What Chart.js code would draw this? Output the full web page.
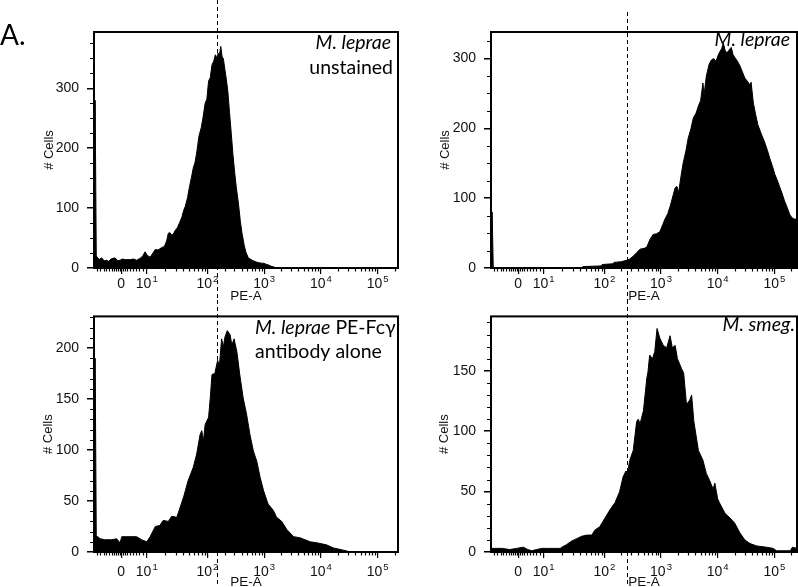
<!DOCTYPE html>
<html>
<head>
<meta charset="utf-8">
<script src="https://cdn.jsdelivr.net/npm/chart.js@4.4.1/dist/chart.umd.min.js"></script>
<style>
  html, body { margin: 0; padding: 0; background: #fff; overflow: hidden; }
  #wrap { position: relative; width: 798px; height: 587px; }
  canvas { position: absolute; }
</style>
</head>
<body>
<div id="wrap">
  <canvas id="tl" width="400" height="304" style="left:0;top:0"></canvas>
  <canvas id="tr" width="398" height="304" style="left:400px;top:0"></canvas>
  <canvas id="bl" width="400" height="290" style="left:0;top:300px"></canvas>
  <canvas id="br" width="398" height="290" style="left:400px;top:300px"></canvas>
</div>
<script>
// PE-A positions are in display decades of the biexponential axis (10^k sits at k)
const xTickPos = [0.48, 0.93, 2, 3, 4, 5];
const xTickBase = ["0", "10", "10", "10", "10", "10"];
const xTickExp = ["", "1", "2", "3", "4", "5"];
const xLowMinor = [0.05, 0.11, 0.17, 0.22, 0.27, 0.31, 0.35, 0.39, 0.42, 0.45,
                   0.51, 0.55, 0.59, 0.63, 0.68, 0.74, 0.8, 0.86];

// gate thresholds (dashed lines), one per column
const gateLeft = 2.17;
const gateRight = 2.40;

// M. leprae unstained
const p1Pos = [0, 0.02, 0.04, 0.09, 0.135, 0.18, 0.22, 0.26, 0.3, 0.37,
               0.42, 0.46, 0.5, 0.55, 0.64, 0.7, 0.75, 0.81, 0.86, 0.9,
               0.94, 0.99, 1.04, 1.08, 1.13, 1.19, 1.24, 1.28, 1.31, 1.34,
               1.37, 1.4, 1.44, 1.47, 1.51, 1.55, 1.58, 1.61, 1.65, 1.68,
               1.72, 1.75, 1.78, 1.81, 1.85, 1.89, 1.92, 1.96, 1.99, 2.02,
               2.05, 2.08, 2.11, 2.14, 2.17, 2.19, 2.21, 2.235, 2.26, 2.28,
               2.31, 2.33, 2.36, 2.39, 2.42, 2.45, 2.48, 2.51, 2.55, 2.58,
               2.61, 2.65, 2.68, 2.72, 2.77, 2.81, 2.86, 2.9, 2.95, 2.99,
               3.04, 3.08, 3.12, 3.16, 3.22, 5.4];
const p1Cells = [18, 280, 20, 14, 17, 12, 13, 11, 15, 17,
                 12, 13, 15, 14, 14, 15, 13, 16, 20, 27,
                 21, 18, 25, 31, 30, 34, 36, 45, 58, 59,
                 55, 57, 64, 67, 76, 85, 96, 103, 118, 134,
                 152, 167, 176, 192, 220, 234, 250, 275, 282, 312,
                 318, 339, 345, 356, 350, 359, 355, 370, 352, 350,
                 330, 317, 295, 259, 225, 189, 160, 134, 105, 78,
                 58, 37, 26, 17, 14, 12, 10, 9, 8, 8,
                 6, 5, 3, 2, 0, 0];

// M. leprae (stained)
const p2Pos = [0, 0.02, 0.04, 1.6, 1.62, 1.95, 1.96, 2.15, 2.17, 2.3,
               2.39, 2.45, 2.51, 2.57, 2.63, 2.7, 2.75, 2.8, 2.86, 2.92,
               2.98, 3.03, 3.07, 3.12, 3.16, 3.2, 3.25, 3.28, 3.31, 3.35,
               3.39, 3.44, 3.48, 3.53, 3.57, 3.62, 3.66, 3.7, 3.74, 3.76,
               3.8, 3.85, 3.89, 3.93, 3.97, 4.01, 4.04, 4.07, 4.1, 4.13,
               4.16, 4.2, 4.24, 4.27, 4.3, 4.35, 4.39, 4.43, 4.48, 4.52,
               4.57, 4.59, 4.63, 4.67, 4.71, 4.77, 4.83, 4.88, 4.92, 4.97,
               5.01, 5.06, 5.1, 5.14, 5.18, 5.23, 5.27, 5.31, 5.35, 5.4];
const p2Cells = [0, 80, 0, 0, 2, 3, 5, 6, 8, 9,
                 11, 13, 17, 22, 27, 28, 30, 40, 48, 49,
                 52, 62, 70, 78, 88, 100, 115, 117, 108, 130,
                 150, 168, 186, 200, 215, 222, 232, 240, 265, 248,
                 275, 292, 298, 300, 296, 305, 310, 314, 322, 312,
                 308, 312, 316, 306, 302, 296, 290, 282, 272, 268,
                 262, 266, 236, 220, 205, 192, 180, 168, 157, 145,
                 134, 124, 115, 106, 96, 86, 77, 72, 70, 70];

// M. leprae PE-Fc gamma antibody alone
const p3Pos = [0, 0.02, 0.04, 0.11, 0.19, 0.31, 0.4, 0.46, 0.49, 0.6,
               0.75, 0.84, 0.93, 0.99, 1.08, 1.16, 1.22, 1.31, 1.37, 1.46,
               1.52, 1.58, 1.66, 1.75, 1.81, 1.87, 1.9, 1.93, 1.96, 2.02,
               2.05, 2.08, 2.13, 2.18, 2.21, 2.25, 2.28, 2.31, 2.35, 2.4,
               2.43, 2.47, 2.52, 2.57, 2.63, 2.69, 2.75, 2.81, 2.87, 2.93,
               2.99, 3.07, 3.16, 3.22, 3.31, 3.4, 3.52, 3.63, 3.81, 3.93,
               4.1, 4.22, 4.46, 4.5, 5.4];
const p3Cells = [17, 190, 16, 13, 12, 12, 13, 9, 15, 15,
                 15, 12, 10, 15, 25, 26, 31, 30, 35, 34,
                 44, 54, 70, 83, 96, 115, 119, 109, 125, 132,
                 151, 174, 175, 188, 182, 209, 201, 211, 217, 213,
                 203, 209, 196, 174, 151, 135, 115, 99, 89, 73,
                 60, 47, 41, 34, 30, 22, 15, 14, 10, 9,
                 7, 4, 1, 0, 0];

// M. smeg.
const p4Pos = [0, 0.07, 0.2, 0.33, 0.45, 0.57, 0.65, 0.72, 0.8, 0.9,
               1.0, 1.1, 1.22, 1.25, 1.33, 1.42, 1.51, 1.6, 1.69, 1.78,
               1.83, 1.92, 2.01, 2.1, 2.19, 2.27, 2.33, 2.38, 2.41, 2.45,
               2.51, 2.57, 2.6, 2.63, 2.69, 2.75, 2.77, 2.8, 2.85, 2.89,
               2.93, 2.98, 3.04, 3.1, 3.16, 3.2, 3.25, 3.29, 3.36, 3.4,
               3.45, 3.51, 3.54, 3.58, 3.66, 3.74, 3.8, 3.86, 3.92, 3.95,
               4.0, 4.04, 4.13, 4.22, 4.3, 4.39, 4.48, 4.57, 4.69, 4.86,
               4.98, 5.04, 5.28, 5.32, 5.4];
const p4Cells = [3, 3, 3, 2, 3, 4, 2, 1, 2, 3,
                 3, 3, 3, 4, 6, 9, 11, 13, 14, 14,
                 18, 21, 28, 35, 41, 50, 62, 67, 66, 76,
                 84, 108, 110, 106, 117, 144, 149, 163, 160, 166,
                 185, 177, 171, 169, 179, 169, 171, 160, 152, 148,
                 122, 126, 130, 108, 84, 76, 65, 59, 52, 57,
                 44, 40, 32, 28, 24, 16, 10, 7, 5, 4,
                 3, 1, 1, 4, 3];

const AX_FONT = '"Liberation Sans", Arial, sans-serif';
const NOTE_FONT = 'Lato, "Open Sans", sans-serif';
const INK = "#111";

/*
 * Minor tick positions along the PE-A axis
 */
function xMinorTicks(xMax) {
  const out = xLowMinor.slice();
  for (let k = 2; k <= 9; k++) out.push(xTickPos[1] + (2 - xTickPos[1]) * Math.log10(k));
  for (let d = 2; d <= 5; d++) {
    for (let k = 2; k <= 9; k++) {
      const v = d + Math.log10(k);
      if (v < xMax) out.push(v);
    }
  }
  return out;
}

/*
 * Frame, minor ticks, superscript tick labels, gate line and panel text
 */
function facsPlugin(p) {
  return {
    id: "facs",
    afterDatasetsDraw(chart) {
      const { ctx, chartArea: a } = chart;
      const x = chart.scales.x, y = chart.scales.y;
      ctx.save();
      ctx.strokeStyle = "#000";
      ctx.lineWidth = 1.2;
      ctx.beginPath();
      xMinorTicks(p.xMax).forEach(v => {
        const px = Math.round(x.getPixelForValue(v)) + 0.5;
        ctx.moveTo(px, a.bottom);
        ctx.lineTo(px, a.bottom + 3.5);
      });
      for (let v = p.yMinor; v < p.yMax; v += p.yMinor) {
        if (p.yMajor.includes(v)) continue;
        const py = Math.round(y.getPixelForValue(v)) + 0.5;
        ctx.moveTo(a.left - 4, py);
        ctx.lineTo(a.left, py);
      }
      ctx.stroke();

      ctx.lineWidth = 2;
      ctx.strokeRect(a.left, a.top, a.right - a.left, a.bottom - a.top);

      ctx.fillStyle = INK;
      ctx.textBaseline = "alphabetic";
      ctx.textAlign = "left";
      const by = a.bottom + p.labelDrop;
      xTickPos.forEach((v, i) => {
        const px = x.getPixelForValue(v);
        ctx.font = "14px " + AX_FONT;
        const wb = ctx.measureText(xTickBase[i]).width;
        ctx.font = "9.5px " + AX_FONT;
        const we = xTickExp[i] ? ctx.measureText(xTickExp[i]).width + 1 : 0;
        const x0 = px - (wb + we) / 2;
        ctx.font = "14px " + AX_FONT;
        ctx.fillText(xTickBase[i], x0, by);
        if (xTickExp[i]) {
          ctx.font = "9.5px " + AX_FONT;
          ctx.fillText(xTickExp[i], x0 + wb + 1, by - 6.5);
        }
      });
      ctx.restore();
    },
    afterDraw(chart) {
      const { ctx } = chart;
      const x = chart.scales.x;
      ctx.save();
      const gx = Math.round(x.getPixelForValue(p.gate)) + 0.5;
      ctx.strokeStyle = "#000";
      ctx.lineWidth = 1;
      ctx.setLineDash([4, 3]);
      ctx.beginPath();
      ctx.moveTo(gx, p.gateTop);
      ctx.lineTo(gx, chart.height);
      ctx.stroke();
      ctx.setLineDash([]);

      ctx.fillStyle = "#000";
      ctx.textBaseline = "alphabetic";
      ctx.textAlign = "left";
      p.notes.forEach(n => {
        const size = n.size || 19.5;
        let total = 0;
        n.parts.forEach(part => {
          ctx.font = (part.italic ? "italic " : "") + size + "px " + NOTE_FONT;
          total += ctx.measureText(part.t).width;
        });
        let cx = n.align === "right" ? n.x - total : n.x;
        n.parts.forEach(part => {
          ctx.font = (part.italic ? "italic " : "") + size + "px " + NOTE_FONT;
          ctx.fillText(part.t, cx, n.y);
          cx += ctx.measureText(part.t).width;
        });
      });
      ctx.restore();
    }
  };
}

const panels = [
  { id: "tl", pos: p1Pos, cells: p1Cells, yMax: 394, yMajor: [0, 100, 200, 300], yMinor: 25,
    xMax: 5.36, gate: gateLeft, gateTop: 0, padTop: 32, padRight: 2, yWidth: 94, xHeight: 36,
    labelDrop: 20, yTitlePad: 42.5,
    notes: [
      { x: 0, y: 45, align: "left", size: 28, parts: [{ t: "A." }] },
      { x: 391, y: 49, align: "right", parts: [{ t: "M. leprae", italic: true }] },
      { x: 393, y: 74, align: "right", parts: [{ t: "unstained" }] }
    ] },
  { id: "tr", pos: p2Pos, cells: p2Cells, yMax: 338, yMajor: [0, 100, 200, 300], yMinor: 25,
    xMax: 5.4, gate: gateRight, gateTop: 12, padTop: 32, padRight: 1, yWidth: 91, xHeight: 36,
    labelDrop: 20, yTitlePad: 38.5,
    notes: [
      { x: 390, y: 46, align: "right", parts: [{ t: "M. leprae", italic: true }] }
    ] },
  { id: "bl", pos: p3Pos, cells: p3Cells, yMax: 231, yMajor: [0, 50, 100, 150, 200], yMinor: 10,
    xMax: 5.36, gate: gateLeft, gateTop: 0, padTop: 14, padRight: 2, yWidth: 94, xHeight: 38,
    labelDrop: 24, yTitlePad: 41.5,
    notes: [
      { x: 255, y: 34, align: "left", parts: [{ t: "M. leprae", italic: true }, { t: " PE-Fc\u03b3" }] },
      { x: 255, y: 58, align: "left", parts: [{ t: "antibody alone" }] }
    ] },
  { id: "br", pos: p4Pos, cells: p4Cells, yMax: 195, yMajor: [0, 50, 100, 150], yMinor: 10,
    xMax: 5.4, gate: gateRight, gateTop: 0, padTop: 14, padRight: 1, yWidth: 91, xHeight: 38,
    labelDrop: 24, yTitlePad: 37.5,
    notes: [
      { x: 395, y: 31, align: "right", parts: [{ t: "M. smeg.", italic: true }] }
    ] }
];

function loadPanel(p) {
  if (p.pos.length !== p.cells.length) throw new Error(p.id + " length mismatch " + p.pos.length + " vs " + p.cells.length);
  const ctx = document.getElementById(p.id);
  return new Chart(ctx, {
    type: "line",
    data: {
      datasets: [{
        data: p.pos.map((v, i) => ({ x: v, y: p.cells[i] })),
        borderColor: "#000",
        backgroundColor: "#000",
        borderWidth: 1,
        pointRadius: 0,
        tension: 0,
        fill: "origin"
      }]
    },
    options: {
      responsive: false,
      animation: false,
      layout: { padding: { top: p.padTop, right: p.padRight, left: 0, bottom: 0 } },
      plugins: { legend: { display: false }, tooltip: { enabled: false } },
      scales: {
        x: {
          type: "linear",
          min: 0,
          max: p.xMax,
          afterBuildTicks: s => { s.ticks = xTickPos.map(v => ({ value: v })); },
          afterFit: s => { s.height = p.xHeight; },
          ticks: { display: false },
          grid: { drawOnChartArea: false, tickLength: 6, color: "#000", lineWidth: 1.2 },
          border: { display: false },
          title: {
            display: true,
            text: "PE-A",
            color: INK,
            font: { family: AX_FONT, size: 13.5, lineHeight: 1 },
            padding: { top: 0, bottom: 0.5 }
          }
        },
        y: {
          type: "linear",
          min: 0,
          max: p.yMax,
          afterBuildTicks: s => { s.ticks = p.yMajor.map(v => ({ value: v })); },
          afterFit: s => { s.width = p.yWidth; },
          ticks: { color: INK, padding: 8, font: { family: AX_FONT, size: 14 } },
          grid: { drawOnChartArea: false, tickLength: 7, color: "#000", lineWidth: 1.5 },
          border: { display: false },
          title: {
            display: true,
            text: "# Cells",
            color: INK,
            font: { family: AX_FONT, size: 13, lineHeight: 1 },
            padding: { top: p.yTitlePad, bottom: 0 }
          }
        }
      }
    },
    plugins: [facsPlugin(p)]
  });
}

panels.forEach(loadPanel);
</script>
</body>
</html>
